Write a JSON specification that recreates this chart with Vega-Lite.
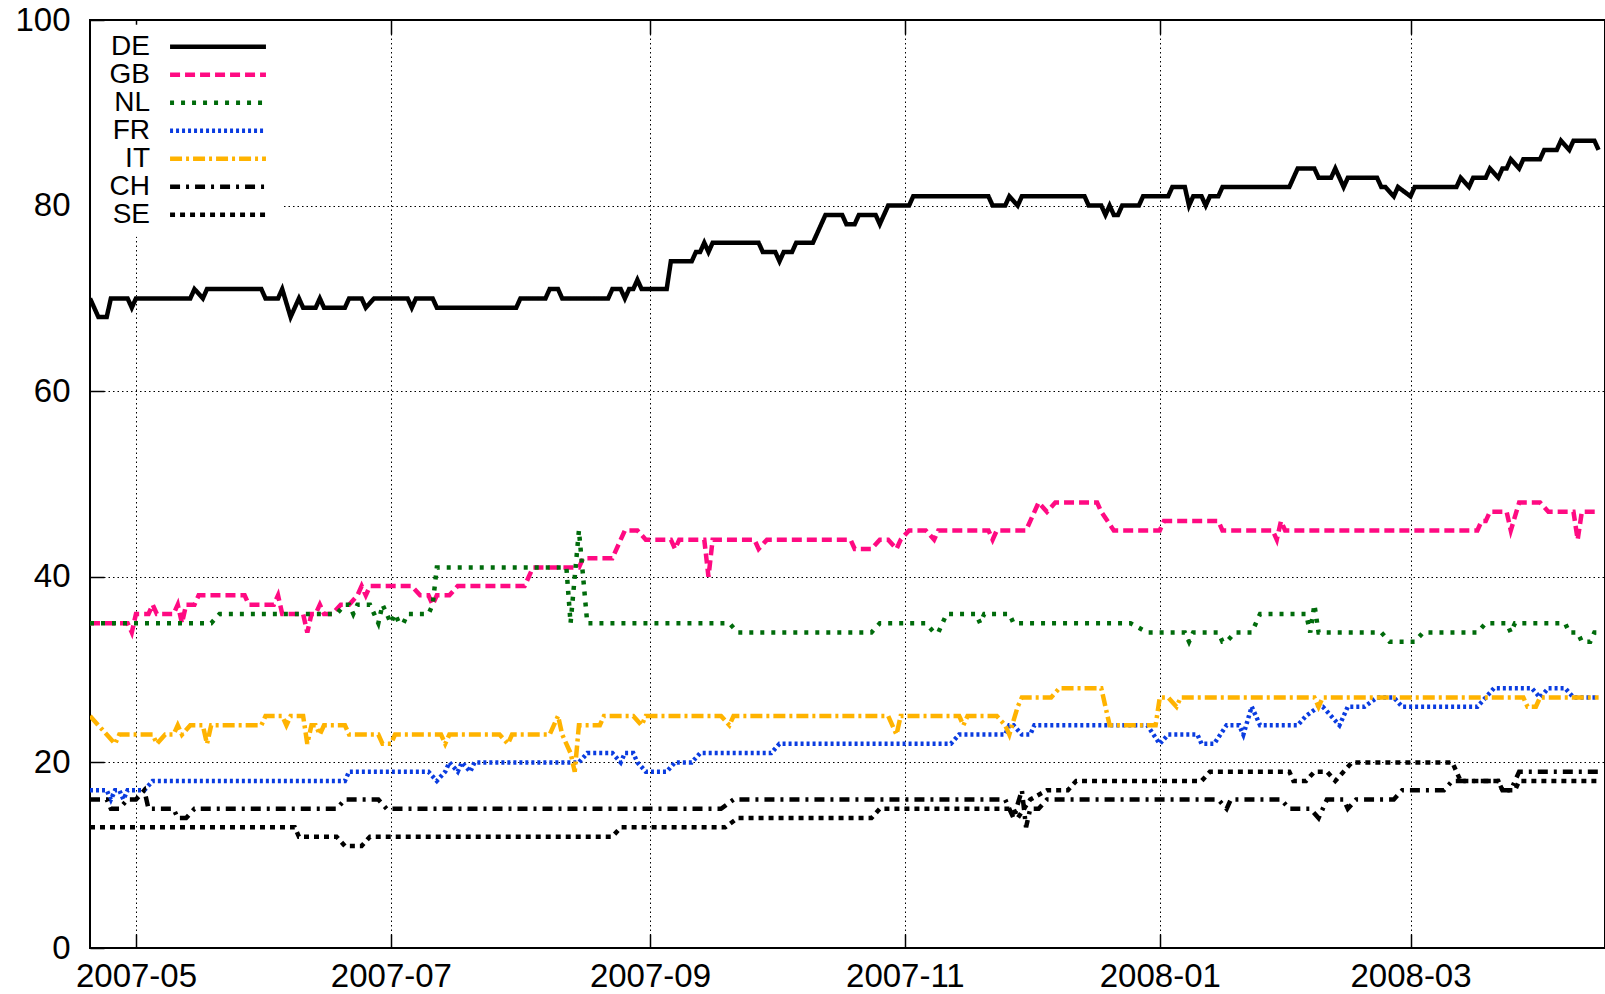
{
"$schema": "https://vega.github.io/schema/vega-lite/v6.json",
"width": 1515, "height": 928,
"autosize": {"type": "none"},
"padding": {"left": 90, "top": 20, "right": 0, "bottom": 46},
"background": "white",
"config": {
  "font": "Liberation Sans",
  "view": {"stroke": "black", "strokeWidth": 2},
  "axis": {"domain": false, "grid": true, "gridColor": "black", "gridDash": [1.5, 3], "gridWidth": 1, "tickColor": "black", "tickWidth": 1.5, "tickSize": -14, "labelColor": "black", "title": null, "labelFlush": false, "labelOverlap": false},
  "legend": {"orient": "none", "legendX": 1, "legendY": 4.7, "title": null, "symbolType": "M-4.17,0H4.17", "symbolSize": 529, "symbolStrokeWidth": 4.5, "labelFontSize": 28, "labelColor": "black", "labelAlign": "right", "labelOffset": -82, "symbolOffset": 105, "rowPadding": 0, "padding": 8, "fillColor": "white", "labelLimit": 0}
},
"data": {"values": [
{"c":"DE","t":"2007-04-20","v":70},{"c":"DE","t":"2007-04-22","v":68},{"c":"DE","t":"2007-04-24","v":68},{"c":"DE","t":"2007-04-25","v":70},{"c":"DE","t":"2007-04-29","v":70},{"c":"DE","t":"2007-04-30","v":69},{"c":"DE","t":"2007-05-01","v":70},{"c":"DE","t":"2007-05-14","v":70},{"c":"DE","t":"2007-05-15","v":71},{"c":"DE","t":"2007-05-17","v":70},{"c":"DE","t":"2007-05-18","v":71},{"c":"DE","t":"2007-05-31","v":71},{"c":"DE","t":"2007-06-01","v":70},{"c":"DE","t":"2007-06-04","v":70},{"c":"DE","t":"2007-06-05","v":71},{"c":"DE","t":"2007-06-07","v":68},{"c":"DE","t":"2007-06-09","v":70},{"c":"DE","t":"2007-06-10","v":69},{"c":"DE","t":"2007-06-13","v":69},{"c":"DE","t":"2007-06-14","v":70},{"c":"DE","t":"2007-06-15","v":69},{"c":"DE","t":"2007-06-20","v":69},{"c":"DE","t":"2007-06-21","v":70},{"c":"DE","t":"2007-06-24","v":70},{"c":"DE","t":"2007-06-25","v":69},{"c":"DE","t":"2007-06-27","v":70},{"c":"DE","t":"2007-07-05","v":70},{"c":"DE","t":"2007-07-06","v":69},{"c":"DE","t":"2007-07-07","v":70},{"c":"DE","t":"2007-07-11","v":70},{"c":"DE","t":"2007-07-12","v":69},{"c":"DE","t":"2007-07-31","v":69},{"c":"DE","t":"2007-08-01","v":70},{"c":"DE","t":"2007-08-07","v":70},{"c":"DE","t":"2007-08-08","v":71},{"c":"DE","t":"2007-08-10","v":71},{"c":"DE","t":"2007-08-11","v":70},{"c":"DE","t":"2007-08-22","v":70},{"c":"DE","t":"2007-08-23","v":71},{"c":"DE","t":"2007-08-25","v":71},{"c":"DE","t":"2007-08-26","v":70},{"c":"DE","t":"2007-08-27","v":71},{"c":"DE","t":"2007-08-28","v":71},{"c":"DE","t":"2007-08-29","v":72},{"c":"DE","t":"2007-08-30","v":71},{"c":"DE","t":"2007-09-05","v":71},{"c":"DE","t":"2007-09-06","v":74},{"c":"DE","t":"2007-09-11","v":74},{"c":"DE","t":"2007-09-12","v":75},{"c":"DE","t":"2007-09-13","v":75},{"c":"DE","t":"2007-09-14","v":76},{"c":"DE","t":"2007-09-15","v":75},{"c":"DE","t":"2007-09-16","v":76},{"c":"DE","t":"2007-09-27","v":76},{"c":"DE","t":"2007-09-28","v":75},{"c":"DE","t":"2007-10-01","v":75},{"c":"DE","t":"2007-10-02","v":74},{"c":"DE","t":"2007-10-03","v":75},{"c":"DE","t":"2007-10-05","v":75},{"c":"DE","t":"2007-10-06","v":76},{"c":"DE","t":"2007-10-10","v":76},{"c":"DE","t":"2007-10-13","v":79},{"c":"DE","t":"2007-10-17","v":79},{"c":"DE","t":"2007-10-18","v":78},{"c":"DE","t":"2007-10-20","v":78},{"c":"DE","t":"2007-10-21","v":79},{"c":"DE","t":"2007-10-25","v":79},{"c":"DE","t":"2007-10-26","v":78},{"c":"DE","t":"2007-10-28","v":80},{"c":"DE","t":"2007-11-02","v":80},{"c":"DE","t":"2007-11-03","v":81},{"c":"DE","t":"2007-11-21","v":81},{"c":"DE","t":"2007-11-22","v":80},{"c":"DE","t":"2007-11-25","v":80},{"c":"DE","t":"2007-11-26","v":81},{"c":"DE","t":"2007-11-28","v":80},{"c":"DE","t":"2007-11-29","v":81},{"c":"DE","t":"2007-12-14","v":81},{"c":"DE","t":"2007-12-15","v":80},{"c":"DE","t":"2007-12-18","v":80},{"c":"DE","t":"2007-12-19","v":79},{"c":"DE","t":"2007-12-20","v":80},{"c":"DE","t":"2007-12-21","v":79},{"c":"DE","t":"2007-12-22","v":79},{"c":"DE","t":"2007-12-23","v":80},{"c":"DE","t":"2007-12-27","v":80},{"c":"DE","t":"2007-12-28","v":81},{"c":"DE","t":"2008-01-03","v":81},{"c":"DE","t":"2008-01-04","v":82},{"c":"DE","t":"2008-01-07","v":82},{"c":"DE","t":"2008-01-08","v":80},{"c":"DE","t":"2008-01-09","v":81},{"c":"DE","t":"2008-01-11","v":81},{"c":"DE","t":"2008-01-12","v":80},{"c":"DE","t":"2008-01-13","v":81},{"c":"DE","t":"2008-01-15","v":81},{"c":"DE","t":"2008-01-16","v":82},{"c":"DE","t":"2008-02-01","v":82},{"c":"DE","t":"2008-02-03","v":84},{"c":"DE","t":"2008-02-07","v":84},{"c":"DE","t":"2008-02-08","v":83},{"c":"DE","t":"2008-02-11","v":83},{"c":"DE","t":"2008-02-12","v":84},{"c":"DE","t":"2008-02-14","v":82},{"c":"DE","t":"2008-02-15","v":83},{"c":"DE","t":"2008-02-22","v":83},{"c":"DE","t":"2008-02-23","v":82},{"c":"DE","t":"2008-02-24","v":82},{"c":"DE","t":"2008-02-26","v":81},{"c":"DE","t":"2008-02-27","v":82},{"c":"DE","t":"2008-03-01","v":81},{"c":"DE","t":"2008-03-02","v":82},{"c":"DE","t":"2008-03-12","v":82},{"c":"DE","t":"2008-03-13","v":83},{"c":"DE","t":"2008-03-15","v":82},{"c":"DE","t":"2008-03-16","v":83},{"c":"DE","t":"2008-03-19","v":83},{"c":"DE","t":"2008-03-20","v":84},{"c":"DE","t":"2008-03-22","v":83},{"c":"DE","t":"2008-03-23","v":84},{"c":"DE","t":"2008-03-24","v":84},{"c":"DE","t":"2008-03-25","v":85},{"c":"DE","t":"2008-03-27","v":84},{"c":"DE","t":"2008-03-28","v":85},{"c":"DE","t":"2008-04-01","v":85},{"c":"DE","t":"2008-04-02","v":86},{"c":"DE","t":"2008-04-05","v":86},{"c":"DE","t":"2008-04-06","v":87},{"c":"DE","t":"2008-04-08","v":86},{"c":"DE","t":"2008-04-09","v":87},{"c":"DE","t":"2008-04-14","v":87},{"c":"DE","t":"2008-04-15","v":86},
{"c":"GB","t":"2007-04-20","v":35},{"c":"GB","t":"2007-04-29","v":35},{"c":"GB","t":"2007-04-30","v":34},{"c":"GB","t":"2007-05-01","v":36},{"c":"GB","t":"2007-05-04","v":36},{"c":"GB","t":"2007-05-05","v":37},{"c":"GB","t":"2007-05-06","v":36},{"c":"GB","t":"2007-05-10","v":36},{"c":"GB","t":"2007-05-11","v":37},{"c":"GB","t":"2007-05-12","v":35},{"c":"GB","t":"2007-05-13","v":37},{"c":"GB","t":"2007-05-15","v":37},{"c":"GB","t":"2007-05-16","v":38},{"c":"GB","t":"2007-05-27","v":38},{"c":"GB","t":"2007-05-28","v":37},{"c":"GB","t":"2007-06-03","v":37},{"c":"GB","t":"2007-06-04","v":38},{"c":"GB","t":"2007-06-05","v":36},{"c":"GB","t":"2007-06-10","v":36},{"c":"GB","t":"2007-06-11","v":34},{"c":"GB","t":"2007-06-12","v":36},{"c":"GB","t":"2007-06-13","v":36},{"c":"GB","t":"2007-06-14","v":37},{"c":"GB","t":"2007-06-15","v":36},{"c":"GB","t":"2007-06-17","v":36},{"c":"GB","t":"2007-06-19","v":37},{"c":"GB","t":"2007-06-21","v":37},{"c":"GB","t":"2007-06-23","v":38},{"c":"GB","t":"2007-06-24","v":39},{"c":"GB","t":"2007-06-25","v":38},{"c":"GB","t":"2007-06-26","v":39},{"c":"GB","t":"2007-07-06","v":39},{"c":"GB","t":"2007-07-08","v":38},{"c":"GB","t":"2007-07-10","v":38},{"c":"GB","t":"2007-07-11","v":37},{"c":"GB","t":"2007-07-12","v":38},{"c":"GB","t":"2007-07-15","v":38},{"c":"GB","t":"2007-07-17","v":39},{"c":"GB","t":"2007-08-02","v":39},{"c":"GB","t":"2007-08-04","v":41},{"c":"GB","t":"2007-08-15","v":41},{"c":"GB","t":"2007-08-16","v":42},{"c":"GB","t":"2007-08-23","v":42},{"c":"GB","t":"2007-08-26","v":45},{"c":"GB","t":"2007-08-29","v":45},{"c":"GB","t":"2007-08-31","v":44},{"c":"GB","t":"2007-09-06","v":44},{"c":"GB","t":"2007-09-07","v":43},{"c":"GB","t":"2007-09-08","v":44},{"c":"GB","t":"2007-09-14","v":44},{"c":"GB","t":"2007-09-15","v":40},{"c":"GB","t":"2007-09-16","v":44},{"c":"GB","t":"2007-09-26","v":44},{"c":"GB","t":"2007-09-27","v":43},{"c":"GB","t":"2007-09-29","v":44},{"c":"GB","t":"2007-10-19","v":44},{"c":"GB","t":"2007-10-20","v":43},{"c":"GB","t":"2007-10-24","v":43},{"c":"GB","t":"2007-10-26","v":44},{"c":"GB","t":"2007-10-28","v":44},{"c":"GB","t":"2007-10-30","v":43},{"c":"GB","t":"2007-10-31","v":44},{"c":"GB","t":"2007-11-02","v":45},{"c":"GB","t":"2007-11-06","v":45},{"c":"GB","t":"2007-11-08","v":44},{"c":"GB","t":"2007-11-09","v":45},{"c":"GB","t":"2007-11-21","v":45},{"c":"GB","t":"2007-11-22","v":44},{"c":"GB","t":"2007-11-23","v":45},{"c":"GB","t":"2007-11-30","v":45},{"c":"GB","t":"2007-12-02","v":47},{"c":"GB","t":"2007-12-03","v":48},{"c":"GB","t":"2007-12-05","v":47},{"c":"GB","t":"2007-12-07","v":48},{"c":"GB","t":"2007-12-17","v":48},{"c":"GB","t":"2007-12-18","v":47},{"c":"GB","t":"2007-12-21","v":45},{"c":"GB","t":"2008-01-01","v":45},{"c":"GB","t":"2008-01-02","v":46},{"c":"GB","t":"2008-01-15","v":46},{"c":"GB","t":"2008-01-16","v":45},{"c":"GB","t":"2008-01-28","v":45},{"c":"GB","t":"2008-01-29","v":44},{"c":"GB","t":"2008-01-30","v":46},{"c":"GB","t":"2008-01-31","v":45},{"c":"GB","t":"2008-03-17","v":45},{"c":"GB","t":"2008-03-18","v":46},{"c":"GB","t":"2008-03-19","v":46},{"c":"GB","t":"2008-03-20","v":47},{"c":"GB","t":"2008-03-24","v":47},{"c":"GB","t":"2008-03-25","v":45},{"c":"GB","t":"2008-03-27","v":48},{"c":"GB","t":"2008-04-01","v":48},{"c":"GB","t":"2008-04-03","v":47},{"c":"GB","t":"2008-04-09","v":47},{"c":"GB","t":"2008-04-10","v":44},{"c":"GB","t":"2008-04-11","v":47},{"c":"GB","t":"2008-04-15","v":47},
{"c":"NL","t":"2007-04-20","v":35},{"c":"NL","t":"2007-05-19","v":35},{"c":"NL","t":"2007-05-21","v":36},{"c":"NL","t":"2007-06-18","v":36},{"c":"NL","t":"2007-06-20","v":37},{"c":"NL","t":"2007-06-21","v":37},{"c":"NL","t":"2007-06-22","v":36},{"c":"NL","t":"2007-06-23","v":37},{"c":"NL","t":"2007-06-26","v":37},{"c":"NL","t":"2007-06-28","v":35},{"c":"NL","t":"2007-06-29","v":37},{"c":"NL","t":"2007-06-30","v":36},{"c":"NL","t":"2007-07-01","v":35},{"c":"NL","t":"2007-07-02","v":36},{"c":"NL","t":"2007-07-03","v":35},{"c":"NL","t":"2007-07-04","v":35},{"c":"NL","t":"2007-07-05","v":36},{"c":"NL","t":"2007-07-10","v":36},{"c":"NL","t":"2007-07-11","v":37},{"c":"NL","t":"2007-07-12","v":41},{"c":"NL","t":"2007-08-12","v":41},{"c":"NL","t":"2007-08-13","v":35},{"c":"NL","t":"2007-08-15","v":45},{"c":"NL","t":"2007-08-17","v":35},{"c":"NL","t":"2007-09-20","v":35},{"c":"NL","t":"2007-09-22","v":34},{"c":"NL","t":"2007-10-24","v":34},{"c":"NL","t":"2007-10-26","v":35},{"c":"NL","t":"2007-11-06","v":35},{"c":"NL","t":"2007-11-08","v":34},{"c":"NL","t":"2007-11-09","v":34},{"c":"NL","t":"2007-11-11","v":36},{"c":"NL","t":"2007-11-18","v":36},{"c":"NL","t":"2007-11-19","v":35},{"c":"NL","t":"2007-11-20","v":36},{"c":"NL","t":"2007-11-26","v":36},{"c":"NL","t":"2007-11-27","v":35},{"c":"NL","t":"2007-12-25","v":35},{"c":"NL","t":"2007-12-29","v":34},{"c":"NL","t":"2008-01-07","v":34},{"c":"NL","t":"2008-01-08","v":33},{"c":"NL","t":"2008-01-09","v":34},{"c":"NL","t":"2008-01-15","v":34},{"c":"NL","t":"2008-01-16","v":33},{"c":"NL","t":"2008-01-17","v":33},{"c":"NL","t":"2008-01-19","v":34},{"c":"NL","t":"2008-01-23","v":34},{"c":"NL","t":"2008-01-25","v":36},{"c":"NL","t":"2008-02-05","v":36},{"c":"NL","t":"2008-02-06","v":34},{"c":"NL","t":"2008-02-07","v":37},{"c":"NL","t":"2008-02-08","v":34},{"c":"NL","t":"2008-02-23","v":34},{"c":"NL","t":"2008-02-25","v":33},{"c":"NL","t":"2008-03-02","v":33},{"c":"NL","t":"2008-03-04","v":34},{"c":"NL","t":"2008-03-17","v":34},{"c":"NL","t":"2008-03-19","v":35},{"c":"NL","t":"2008-03-24","v":35},{"c":"NL","t":"2008-03-25","v":34},{"c":"NL","t":"2008-03-26","v":35},{"c":"NL","t":"2008-04-07","v":35},{"c":"NL","t":"2008-04-08","v":34},{"c":"NL","t":"2008-04-10","v":34},{"c":"NL","t":"2008-04-11","v":33},{"c":"NL","t":"2008-04-13","v":33},{"c":"NL","t":"2008-04-14","v":34},{"c":"NL","t":"2008-04-15","v":34},
{"c":"FR","t":"2007-04-20","v":17},{"c":"FR","t":"2007-04-24","v":17},{"c":"FR","t":"2007-04-25","v":16},{"c":"FR","t":"2007-04-26","v":17},{"c":"FR","t":"2007-04-27","v":17},{"c":"FR","t":"2007-04-28","v":16},{"c":"FR","t":"2007-04-29","v":17},{"c":"FR","t":"2007-05-03","v":17},{"c":"FR","t":"2007-05-05","v":18},{"c":"FR","t":"2007-06-20","v":18},{"c":"FR","t":"2007-06-21","v":19},{"c":"FR","t":"2007-07-10","v":19},{"c":"FR","t":"2007-07-12","v":18},{"c":"FR","t":"2007-07-14","v":19},{"c":"FR","t":"2007-07-15","v":20},{"c":"FR","t":"2007-07-17","v":19},{"c":"FR","t":"2007-07-18","v":20},{"c":"FR","t":"2007-07-20","v":19},{"c":"FR","t":"2007-07-21","v":20},{"c":"FR","t":"2007-08-15","v":20},{"c":"FR","t":"2007-08-17","v":21},{"c":"FR","t":"2007-08-23","v":21},{"c":"FR","t":"2007-08-25","v":20},{"c":"FR","t":"2007-08-26","v":21},{"c":"FR","t":"2007-08-28","v":21},{"c":"FR","t":"2007-08-29","v":20},{"c":"FR","t":"2007-08-31","v":19},{"c":"FR","t":"2007-09-05","v":19},{"c":"FR","t":"2007-09-07","v":20},{"c":"FR","t":"2007-09-11","v":20},{"c":"FR","t":"2007-09-13","v":21},{"c":"FR","t":"2007-09-30","v":21},{"c":"FR","t":"2007-10-02","v":22},{"c":"FR","t":"2007-11-12","v":22},{"c":"FR","t":"2007-11-14","v":23},{"c":"FR","t":"2007-11-25","v":23},{"c":"FR","t":"2007-11-26","v":24},{"c":"FR","t":"2007-11-27","v":24},{"c":"FR","t":"2007-11-29","v":23},{"c":"FR","t":"2007-12-01","v":23},{"c":"FR","t":"2007-12-02","v":24},{"c":"FR","t":"2007-12-29","v":24},{"c":"FR","t":"2008-01-01","v":22},{"c":"FR","t":"2008-01-03","v":23},{"c":"FR","t":"2008-01-10","v":23},{"c":"FR","t":"2008-01-11","v":22},{"c":"FR","t":"2008-01-14","v":22},{"c":"FR","t":"2008-01-17","v":24},{"c":"FR","t":"2008-01-20","v":24},{"c":"FR","t":"2008-01-21","v":23},{"c":"FR","t":"2008-01-23","v":26},{"c":"FR","t":"2008-01-25","v":24},{"c":"FR","t":"2008-02-03","v":24},{"c":"FR","t":"2008-02-05","v":25},{"c":"FR","t":"2008-02-08","v":26},{"c":"FR","t":"2008-02-09","v":26},{"c":"FR","t":"2008-02-13","v":24},{"c":"FR","t":"2008-02-15","v":26},{"c":"FR","t":"2008-02-19","v":26},{"c":"FR","t":"2008-02-22","v":27},{"c":"FR","t":"2008-02-26","v":27},{"c":"FR","t":"2008-02-28","v":26},{"c":"FR","t":"2008-03-17","v":26},{"c":"FR","t":"2008-03-19","v":27},{"c":"FR","t":"2008-03-21","v":28},{"c":"FR","t":"2008-03-30","v":28},{"c":"FR","t":"2008-04-01","v":27},{"c":"FR","t":"2008-04-03","v":28},{"c":"FR","t":"2008-04-07","v":28},{"c":"FR","t":"2008-04-09","v":27},{"c":"FR","t":"2008-04-15","v":27},
{"c":"IT","t":"2007-04-20","v":25},{"c":"IT","t":"2007-04-22","v":24},{"c":"IT","t":"2007-04-24","v":23},{"c":"IT","t":"2007-04-26","v":22},{"c":"IT","t":"2007-04-27","v":23},{"c":"IT","t":"2007-05-05","v":23},{"c":"IT","t":"2007-05-06","v":22},{"c":"IT","t":"2007-05-08","v":23},{"c":"IT","t":"2007-05-10","v":23},{"c":"IT","t":"2007-05-11","v":24},{"c":"IT","t":"2007-05-12","v":23},{"c":"IT","t":"2007-05-14","v":24},{"c":"IT","t":"2007-05-17","v":24},{"c":"IT","t":"2007-05-18","v":22},{"c":"IT","t":"2007-05-19","v":24},{"c":"IT","t":"2007-05-31","v":24},{"c":"IT","t":"2007-06-01","v":25},{"c":"IT","t":"2007-06-05","v":25},{"c":"IT","t":"2007-06-06","v":24},{"c":"IT","t":"2007-06-07","v":25},{"c":"IT","t":"2007-06-10","v":25},{"c":"IT","t":"2007-06-11","v":22},{"c":"IT","t":"2007-06-12","v":24},{"c":"IT","t":"2007-06-13","v":24},{"c":"IT","t":"2007-06-14","v":23},{"c":"IT","t":"2007-06-15","v":24},{"c":"IT","t":"2007-06-20","v":24},{"c":"IT","t":"2007-06-21","v":23},{"c":"IT","t":"2007-06-28","v":23},{"c":"IT","t":"2007-06-29","v":22},{"c":"IT","t":"2007-07-01","v":22},{"c":"IT","t":"2007-07-02","v":23},{"c":"IT","t":"2007-07-13","v":23},{"c":"IT","t":"2007-07-14","v":22},{"c":"IT","t":"2007-07-15","v":23},{"c":"IT","t":"2007-07-27","v":23},{"c":"IT","t":"2007-07-29","v":22},{"c":"IT","t":"2007-07-30","v":23},{"c":"IT","t":"2007-08-08","v":23},{"c":"IT","t":"2007-08-10","v":25},{"c":"IT","t":"2007-08-11","v":23},{"c":"IT","t":"2007-08-12","v":22},{"c":"IT","t":"2007-08-13","v":21},{"c":"IT","t":"2007-08-14","v":19},{"c":"IT","t":"2007-08-15","v":24},{"c":"IT","t":"2007-08-20","v":24},{"c":"IT","t":"2007-08-21","v":25},{"c":"IT","t":"2007-08-28","v":25},{"c":"IT","t":"2007-08-30","v":24},{"c":"IT","t":"2007-08-31","v":25},{"c":"IT","t":"2007-09-18","v":25},{"c":"IT","t":"2007-09-20","v":24},{"c":"IT","t":"2007-09-21","v":25},{"c":"IT","t":"2007-10-28","v":25},{"c":"IT","t":"2007-10-30","v":23},{"c":"IT","t":"2007-10-31","v":25},{"c":"IT","t":"2007-11-14","v":25},{"c":"IT","t":"2007-11-15","v":24},{"c":"IT","t":"2007-11-16","v":25},{"c":"IT","t":"2007-11-23","v":25},{"c":"IT","t":"2007-11-25","v":24},{"c":"IT","t":"2007-11-26","v":23},{"c":"IT","t":"2007-11-28","v":26},{"c":"IT","t":"2007-11-29","v":27},{"c":"IT","t":"2007-12-06","v":27},{"c":"IT","t":"2007-12-08","v":28},{"c":"IT","t":"2007-12-18","v":28},{"c":"IT","t":"2007-12-20","v":24},{"c":"IT","t":"2007-12-31","v":24},{"c":"IT","t":"2008-01-01","v":27},{"c":"IT","t":"2008-01-03","v":27},{"c":"IT","t":"2008-01-05","v":26},{"c":"IT","t":"2008-01-06","v":27},{"c":"IT","t":"2008-02-07","v":27},{"c":"IT","t":"2008-02-08","v":26},{"c":"IT","t":"2008-02-09","v":27},{"c":"IT","t":"2008-03-28","v":27},{"c":"IT","t":"2008-03-29","v":26},{"c":"IT","t":"2008-03-31","v":26},{"c":"IT","t":"2008-04-01","v":27},{"c":"IT","t":"2008-04-15","v":27},
{"c":"CH","t":"2007-04-20","v":16},{"c":"CH","t":"2007-04-24","v":16},{"c":"CH","t":"2007-04-25","v":15},{"c":"CH","t":"2007-04-27","v":15},{"c":"CH","t":"2007-04-29","v":16},{"c":"CH","t":"2007-05-01","v":16},{"c":"CH","t":"2007-05-03","v":17},{"c":"CH","t":"2007-05-04","v":15},{"c":"CH","t":"2007-05-10","v":15},{"c":"CH","t":"2007-05-11","v":14},{"c":"CH","t":"2007-05-13","v":14},{"c":"CH","t":"2007-05-15","v":15},{"c":"CH","t":"2007-06-18","v":15},{"c":"CH","t":"2007-06-20","v":16},{"c":"CH","t":"2007-06-28","v":16},{"c":"CH","t":"2007-06-30","v":15},{"c":"CH","t":"2007-09-18","v":15},{"c":"CH","t":"2007-09-21","v":16},{"c":"CH","t":"2007-11-25","v":16},{"c":"CH","t":"2007-11-26","v":15},{"c":"CH","t":"2007-11-27","v":14},{"c":"CH","t":"2007-11-29","v":17},{"c":"CH","t":"2007-11-30","v":13},{"c":"CH","t":"2007-12-01","v":15},{"c":"CH","t":"2007-12-03","v":15},{"c":"CH","t":"2007-12-05","v":16},{"c":"CH","t":"2008-01-15","v":16},{"c":"CH","t":"2008-01-17","v":15},{"c":"CH","t":"2008-01-18","v":16},{"c":"CH","t":"2008-01-30","v":16},{"c":"CH","t":"2008-02-01","v":15},{"c":"CH","t":"2008-02-06","v":15},{"c":"CH","t":"2008-02-08","v":14},{"c":"CH","t":"2008-02-10","v":16},{"c":"CH","t":"2008-02-14","v":16},{"c":"CH","t":"2008-02-15","v":15},{"c":"CH","t":"2008-02-17","v":16},{"c":"CH","t":"2008-02-26","v":16},{"c":"CH","t":"2008-02-28","v":17},{"c":"CH","t":"2008-03-09","v":17},{"c":"CH","t":"2008-03-11","v":18},{"c":"CH","t":"2008-03-22","v":18},{"c":"CH","t":"2008-03-23","v":17},{"c":"CH","t":"2008-03-25","v":17},{"c":"CH","t":"2008-03-27","v":19},{"c":"CH","t":"2008-04-15","v":19},
{"c":"SE","t":"2007-04-20","v":13},{"c":"SE","t":"2007-06-08","v":13},{"c":"SE","t":"2007-06-09","v":12},{"c":"SE","t":"2007-06-18","v":12},{"c":"SE","t":"2007-06-20","v":11},{"c":"SE","t":"2007-06-24","v":11},{"c":"SE","t":"2007-06-26","v":12},{"c":"SE","t":"2007-08-23","v":12},{"c":"SE","t":"2007-08-25","v":13},{"c":"SE","t":"2007-09-19","v":13},{"c":"SE","t":"2007-09-22","v":14},{"c":"SE","t":"2007-10-24","v":14},{"c":"SE","t":"2007-10-26","v":15},{"c":"SE","t":"2007-11-25","v":15},{"c":"SE","t":"2007-11-27","v":15},{"c":"SE","t":"2007-11-28","v":14},{"c":"SE","t":"2007-12-01","v":16},{"c":"SE","t":"2007-12-05","v":17},{"c":"SE","t":"2007-12-10","v":17},{"c":"SE","t":"2007-12-12","v":18},{"c":"SE","t":"2008-01-11","v":18},{"c":"SE","t":"2008-01-13","v":19},{"c":"SE","t":"2008-02-01","v":19},{"c":"SE","t":"2008-02-02","v":18},{"c":"SE","t":"2008-02-05","v":18},{"c":"SE","t":"2008-02-07","v":19},{"c":"SE","t":"2008-02-10","v":19},{"c":"SE","t":"2008-02-12","v":18},{"c":"SE","t":"2008-02-16","v":20},{"c":"SE","t":"2008-03-11","v":20},{"c":"SE","t":"2008-03-13","v":18},{"c":"SE","t":"2008-03-22","v":18},{"c":"SE","t":"2008-03-23","v":17},{"c":"SE","t":"2008-03-26","v":17},{"c":"SE","t":"2008-03-27","v":18},{"c":"SE","t":"2008-04-15","v":18}
]},
"encoding": {
  "y": {"field": "v", "type": "quantitative",
        "scale": {"domain": [0, 100], "nice": false, "zero": true},
        "axis": {"values": [0, 20, 40, 60, 80, 100], "labelFontSize": 33, "labelPadding": 34}}
},
"layer": [
 {"mark": {"type": "line", "strokeWidth": 4.5, "strokeJoin": "miter", "clip": true},
  "encoding": {
  "x": {"field": "t", "type": "temporal",
        "scale": {"type": "utc", "domain": [{"year": 2007, "month": 4, "date": 20, "utc": true}, {"year": 2008, "month": 4, "date": 16, "hours": 13, "utc": true}]},
        "axis": {"values": [{"year": 2007, "month": 5, "date": 1, "utc": true}, {"year": 2007, "month": 7, "date": 1, "utc": true}, {"year": 2007, "month": 9, "date": 1, "utc": true}, {"year": 2007, "month": 11, "date": 1, "utc": true}, {"year": 2008, "month": 1, "date": 1, "utc": true}, {"year": 2008, "month": 3, "date": 1, "utc": true}],
                 "labelExpr": "utcFormat(datum.value, '%Y-%m')", "labelFontSize": 33, "labelPadding": 26, "labelAngle": 0}},
  "color": {"field": "c", "type": "nominal",
            "scale": {"domain": ["DE", "GB", "NL", "FR", "IT", "CH", "SE"], "range": ["#000000", "#ff0a82", "#006b0b", "#0a3ce0", "#ffb300", "#000000", "#000000"]}},
  "strokeDash": {"field": "c", "type": "nominal",
            "scale": {"domain": ["DE", "GB", "NL", "FR", "IT", "CH", "SE"], "range": [[1, 0], [10, 5], [4, 7], [3, 3], [12, 4, 3, 4], [10, 6, 3, 6], [5, 5]]}}
  }},
 {"mark": {"type": "line", "opacity": 0},
  "encoding": {
   "x": {"field": "t", "type": "temporal",
         "axis": {"orient": "top", "labels": false, "grid": false, "values": [{"year": 2007, "month": 5, "date": 1, "utc": true}, {"year": 2007, "month": 7, "date": 1, "utc": true}, {"year": 2007, "month": 9, "date": 1, "utc": true}, {"year": 2007, "month": 11, "date": 1, "utc": true}, {"year": 2008, "month": 1, "date": 1, "utc": true}, {"year": 2008, "month": 3, "date": 1, "utc": true}]}},
   "detail": {"field": "c", "type": "nominal"}
  }}
],
"resolve": {"axis": {"x": "independent"}}
}
